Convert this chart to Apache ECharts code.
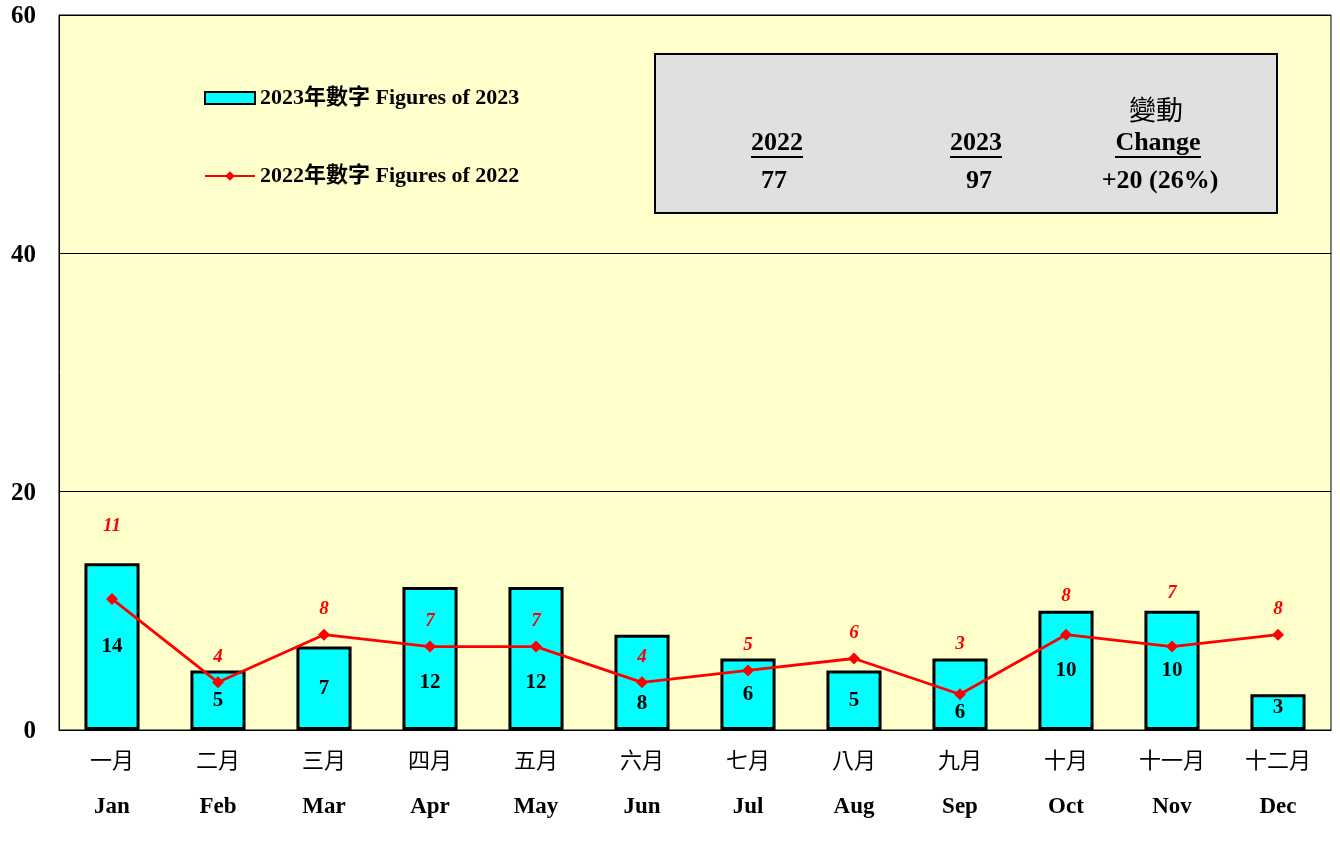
<!DOCTYPE html>
<html>
<head>
<meta charset="utf-8">
<script src="https://cdn.jsdelivr.net/npm/echarts@6/dist/echarts.min.js"></script>
<style>
html,body{margin:0;padding:0;background:#fff;}
#chart{width:1340px;height:849px;}
</style>
</head>
<body>
<div id="chart"></div>
<script>
const monthsZh = ['一月','二月','三月','四月','五月','六月','七月','八月','九月','十月','十一月','十二月'];
const monthsEn = ['Jan','Feb','Mar','Apr','May','Jun','Jul','Aug','Sep','Oct','Nov','Dec'];
const values2023 = [14,5,7,12,12,8,6,5,6,10,10,3];
const values2022 = [11,4,8,7,7,4,5,6,3,8,7,8];
const yTicks = [0,20,40,60];
const seriesNames = ['2023年數字 Figures of 2023','2022年數字 Figures of 2022'];
const summaryHeaders = ['2022','2023','Change'];
const summaryValues = ['77','97','+20 (26%)'];
const summaryZh = '變動';

const SERIF = '"Liberation Serif","Times New Roman","Noto Sans CJK TC",serif';
const CJK = '"Noto Sans CJK TC","Liberation Serif",sans-serif';

// label placement nudges (style only)
const barLabelNudge = {3:24,4:24,5:21,8:18,11:-5};
const lineLabelDist = {0:57,8:35,9:23,10:38};

const chart = echarts.init(document.getElementById('chart'));

const barData = values2023.map((v,i)=> barLabelNudge[i] ? {value:v,label:{offset:[0,barLabelNudge[i]]}} : v);
const lineData = values2022.map((v,i)=> lineLabelDist[i] ? {value:v,label:{distance:lineLabelDist[i]}} : v);

chart.setOption({
  backgroundColor:'#ffffff',
  animation:false,
  grid:{left:59,right:9,top:15,bottom:119,show:true,backgroundColor:'#ffffcc',borderColor:'#000',borderWidth:1,outerBoundsMode:'none',containLabel:false},
  legend:{
    orient:'vertical',left:199,top:82,itemGap:56,itemWidth:50,itemHeight:12,
    textStyle:{fontFamily:SERIF,fontWeight:'bold',fontSize:22,color:'#000'},
    data:[{name:seriesNames[0],icon:'rect'},{name:seriesNames[1]}]
  },
  xAxis:{
    type:'category',data:monthsZh.map((z,i)=>z+'|'+monthsEn[i]),
    axisLine:{lineStyle:{color:'#000',width:1}},axisTick:{show:false},
    axisLabel:{
      margin:6,interval:0,
      formatter:function(v){const p=v.split('|');return '{a|'+p[0]+'}\n{b|'+p[1]+'}';},
      rich:{
        a:{fontFamily:CJK,fontSize:22,lineHeight:48,color:'#000'},
        b:{fontFamily:SERIF,fontSize:23,fontWeight:'bold',lineHeight:46,color:'#000'}
      }
    }
  },
  yAxis:{
    type:'value',min:yTicks[0],max:yTicks[yTicks.length-1],interval:yTicks[1]-yTicks[0],
    axisLine:{show:true,lineStyle:{color:'#000',width:1}},axisTick:{show:false},
    splitLine:{lineStyle:{color:'#000',width:1}},
    axisLabel:{margin:23,fontFamily:SERIF,fontWeight:'bold',fontSize:25,color:'#000',verticalAlign:'top',lineHeight:4}
  },
  series:[
    {
      name:seriesNames[0],type:'bar',data:barData,barWidth:'52%',
      itemStyle:{color:'#00ffff',borderColor:'#000',borderWidth:3},
      label:{show:true,position:'inside',fontFamily:SERIF,fontWeight:'bold',fontSize:21,color:'#000'},
      z:2
    },
    {
      name:seriesNames[1],type:'line',data:lineData,
      symbol:'diamond',symbolSize:12,
      lineStyle:{color:'#ff0000',width:2.8},itemStyle:{color:'#ff0000'},
      label:{show:true,position:'top',distance:10,fontFamily:SERIF,fontWeight:'bold',fontStyle:'italic',fontSize:19,color:'#ff0000'},
      z:3
    }
  ],
  graphic:[
    {type:'rect',shape:{x:655,y:54,width:622,height:159},style:{fill:'#e0e0e0',stroke:'#000',lineWidth:2},z:10},
    {type:'text',x:777,y:143,style:{text:summaryHeaders[0],fontFamily:SERIF,fontWeight:'bold',fontSize:26,fill:'#000',textAlign:'center',textVerticalAlign:'middle'},z:11},
    {type:'text',x:976,y:143,style:{text:summaryHeaders[1],fontFamily:SERIF,fontWeight:'bold',fontSize:26,fill:'#000',textAlign:'center',textVerticalAlign:'middle'},z:11},
    {type:'text',x:1158,y:143,style:{text:summaryHeaders[2],fontFamily:SERIF,fontWeight:'bold',fontSize:26,fill:'#000',textAlign:'center',textVerticalAlign:'middle'},z:11},
    {type:'text',x:1156,y:110,style:{text:summaryZh,fontFamily:CJK,fontSize:27,fill:'#000',textAlign:'center',textVerticalAlign:'middle'},z:11},
    {type:'text',x:774,y:181,style:{text:summaryValues[0],fontFamily:SERIF,fontWeight:'bold',fontSize:26,fill:'#000',textAlign:'center',textVerticalAlign:'middle'},z:11},
    {type:'text',x:979,y:181,style:{text:summaryValues[1],fontFamily:SERIF,fontWeight:'bold',fontSize:26,fill:'#000',textAlign:'center',textVerticalAlign:'middle'},z:11},
    {type:'text',x:1160,y:181,style:{text:summaryValues[2],fontFamily:SERIF,fontWeight:'bold',fontSize:26,fill:'#000',textAlign:'center',textVerticalAlign:'middle'},z:11},
    {type:'line',shape:{x1:751,y1:157,x2:803,y2:157},style:{stroke:'#000',lineWidth:2},z:11},
    {type:'line',shape:{x1:950,y1:157,x2:1002,y2:157},style:{stroke:'#000',lineWidth:2},z:11},
    {type:'line',shape:{x1:1115,y1:157,x2:1201,y2:157},style:{stroke:'#000',lineWidth:2},z:11}
  ]
});
</script>
</body>
</html>
